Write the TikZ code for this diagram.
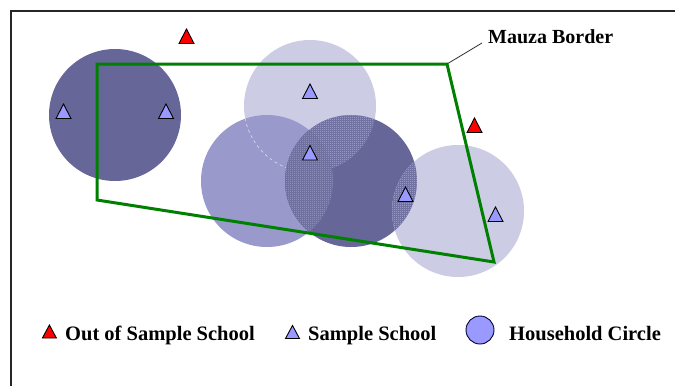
\documentclass[tikz,border=0pt]{standalone}
\usepackage{fontspec}
\setmainfont{Liberation Serif}
\usetikzlibrary{patterns.meta}
\definecolor{darkc}{HTML}{666699}
\definecolor{lightc}{HTML}{CCCCE5}
\definecolor{medc}{HTML}{9999CC}
\definecolor{greyc}{HTML}{B6B6C8}
\definecolor{schoolblue}{HTML}{9999FF}
\definecolor{borderg}{RGB}{0,128,0}
\tikzdeclarepattern{
  name=checkhatch,
  type=uncolored,
  bounding box={(0pt,0pt) and (2pt,2pt)},
  tile size={(2pt,2pt)},
  code={\fill (0pt,0pt) rectangle (1pt,1pt); \fill (1pt,1pt) rectangle (2pt,2pt);}
}
\tikzset{
  hh/.pic={\filldraw[line width=0.9pt, draw=black] (-7.5,7) -- (0,-7.5) -- (7.5,7) -- cycle;},
  hhs/.pic={\filldraw[line width=0.9pt, draw=black] (-7,6.5) -- (0,-6.5) -- (7,6.5) -- cycle;},
  outschool/.style={fill=red},
  inschool/.style={fill=schoolblue},
  legendtext/.style={font=\fontsize{20.5}{24}\selectfont\bfseries, inner sep=0pt, anchor=base west},
}
\begin{document}
\begin{tikzpicture}[x=1pt,y=-1pt]
\useasboundingbox (0,0) rectangle (675,386);
\fill[white] (0,0) rectangle (675,386);
\draw[line width=2pt, black!85] (11,386) -- (11,11) -- (675,11);
% circle centres
\coordinate (c1) at (115,115);
\coordinate (c2) at (310,106);
\coordinate (c3) at (267,181);
\coordinate (c4) at (351,181);
\coordinate (c5) at (458,211);
\def\R{66}
% circles
\fill[darkc] (c1) circle [radius=\R];
\fill[lightc] (c2) circle [radius=\R];
\fill[medc] (c3) circle [radius=\R];
\begin{scope}
  \clip (c3) circle [radius=\R];
  \draw[white, opacity=0.6, dashed, line width=0.7pt] (c2) circle [radius=\R];
\end{scope}
\fill[darkc] (c4) circle [radius=\R];
\begin{scope}
  \clip (c4) circle [radius=\R];
  \fill[pattern={checkhatch}, pattern color=lightc] (c2) circle [radius=\R];
  \fill[darkc] (c3) circle [radius=\R];
  \fill[pattern={checkhatch}, pattern color=greyc] (c3) circle [radius=\R];
\end{scope}
\fill[lightc] (c5) circle [radius=\R];
\begin{scope}
  \clip (c4) circle [radius=\R];
  \fill[darkc] (c5) circle [radius=\R];
  \fill[pattern={checkhatch}, pattern color=lightc] (c5) circle [radius=\R];
\end{scope}
% Mauza border
\coordinate (m1) at (97,64);
\coordinate (m2) at (447,64);
\coordinate (m3) at (494,262);
\coordinate (m4) at (97,200);
\draw[borderg, line width=3pt, line join=miter] (m1) -- (m2) -- (m3) -- (m4) -- cycle;
\node[legendtext, font=\fontsize{20}{24}\selectfont\bfseries] (mlabel) at (488,43) {Mauza Border};
\coordinate (mend) at (482,43);
\draw[black!80, line width=0.8pt] (m2) -- (mend);
% schools
\pic[outschool] (r1) at (186.5,36.5) {hh};
\pic[outschool] (r2) at (474.5,125.5) {hh};
\pic[inschool] (b1) at (63.5,111.5) {hh};
\pic[inschool] (b2) at (166,111.5) {hh};
\pic[inschool] (b3) at (310,91.5) {hh};
\pic[inschool] (b4) at (310,153) {hh};
\pic[inschool] (b5) at (405.5,194.5) {hh};
\pic[inschool] (b6) at (495.5,214.5) {hh};
% legend
\pic[outschool] (lr) at (49.4,331.5) {hhs};
\node[legendtext] (lt1) at (65,340.7) {Out of Sample School};
\pic[inschool] (lb) at (292.5,332) {hhs};
\node[legendtext] (lt2) at (308,340.7) {Sample School};
\node[circle, draw=black!80!blue, line width=0.9pt, fill=schoolblue, minimum size=28pt, inner sep=0pt] (lc) at (480,330) {};
\node[legendtext] (lt3) at (509,340.7) {Household Circle};
\end{tikzpicture}
\end{document}
